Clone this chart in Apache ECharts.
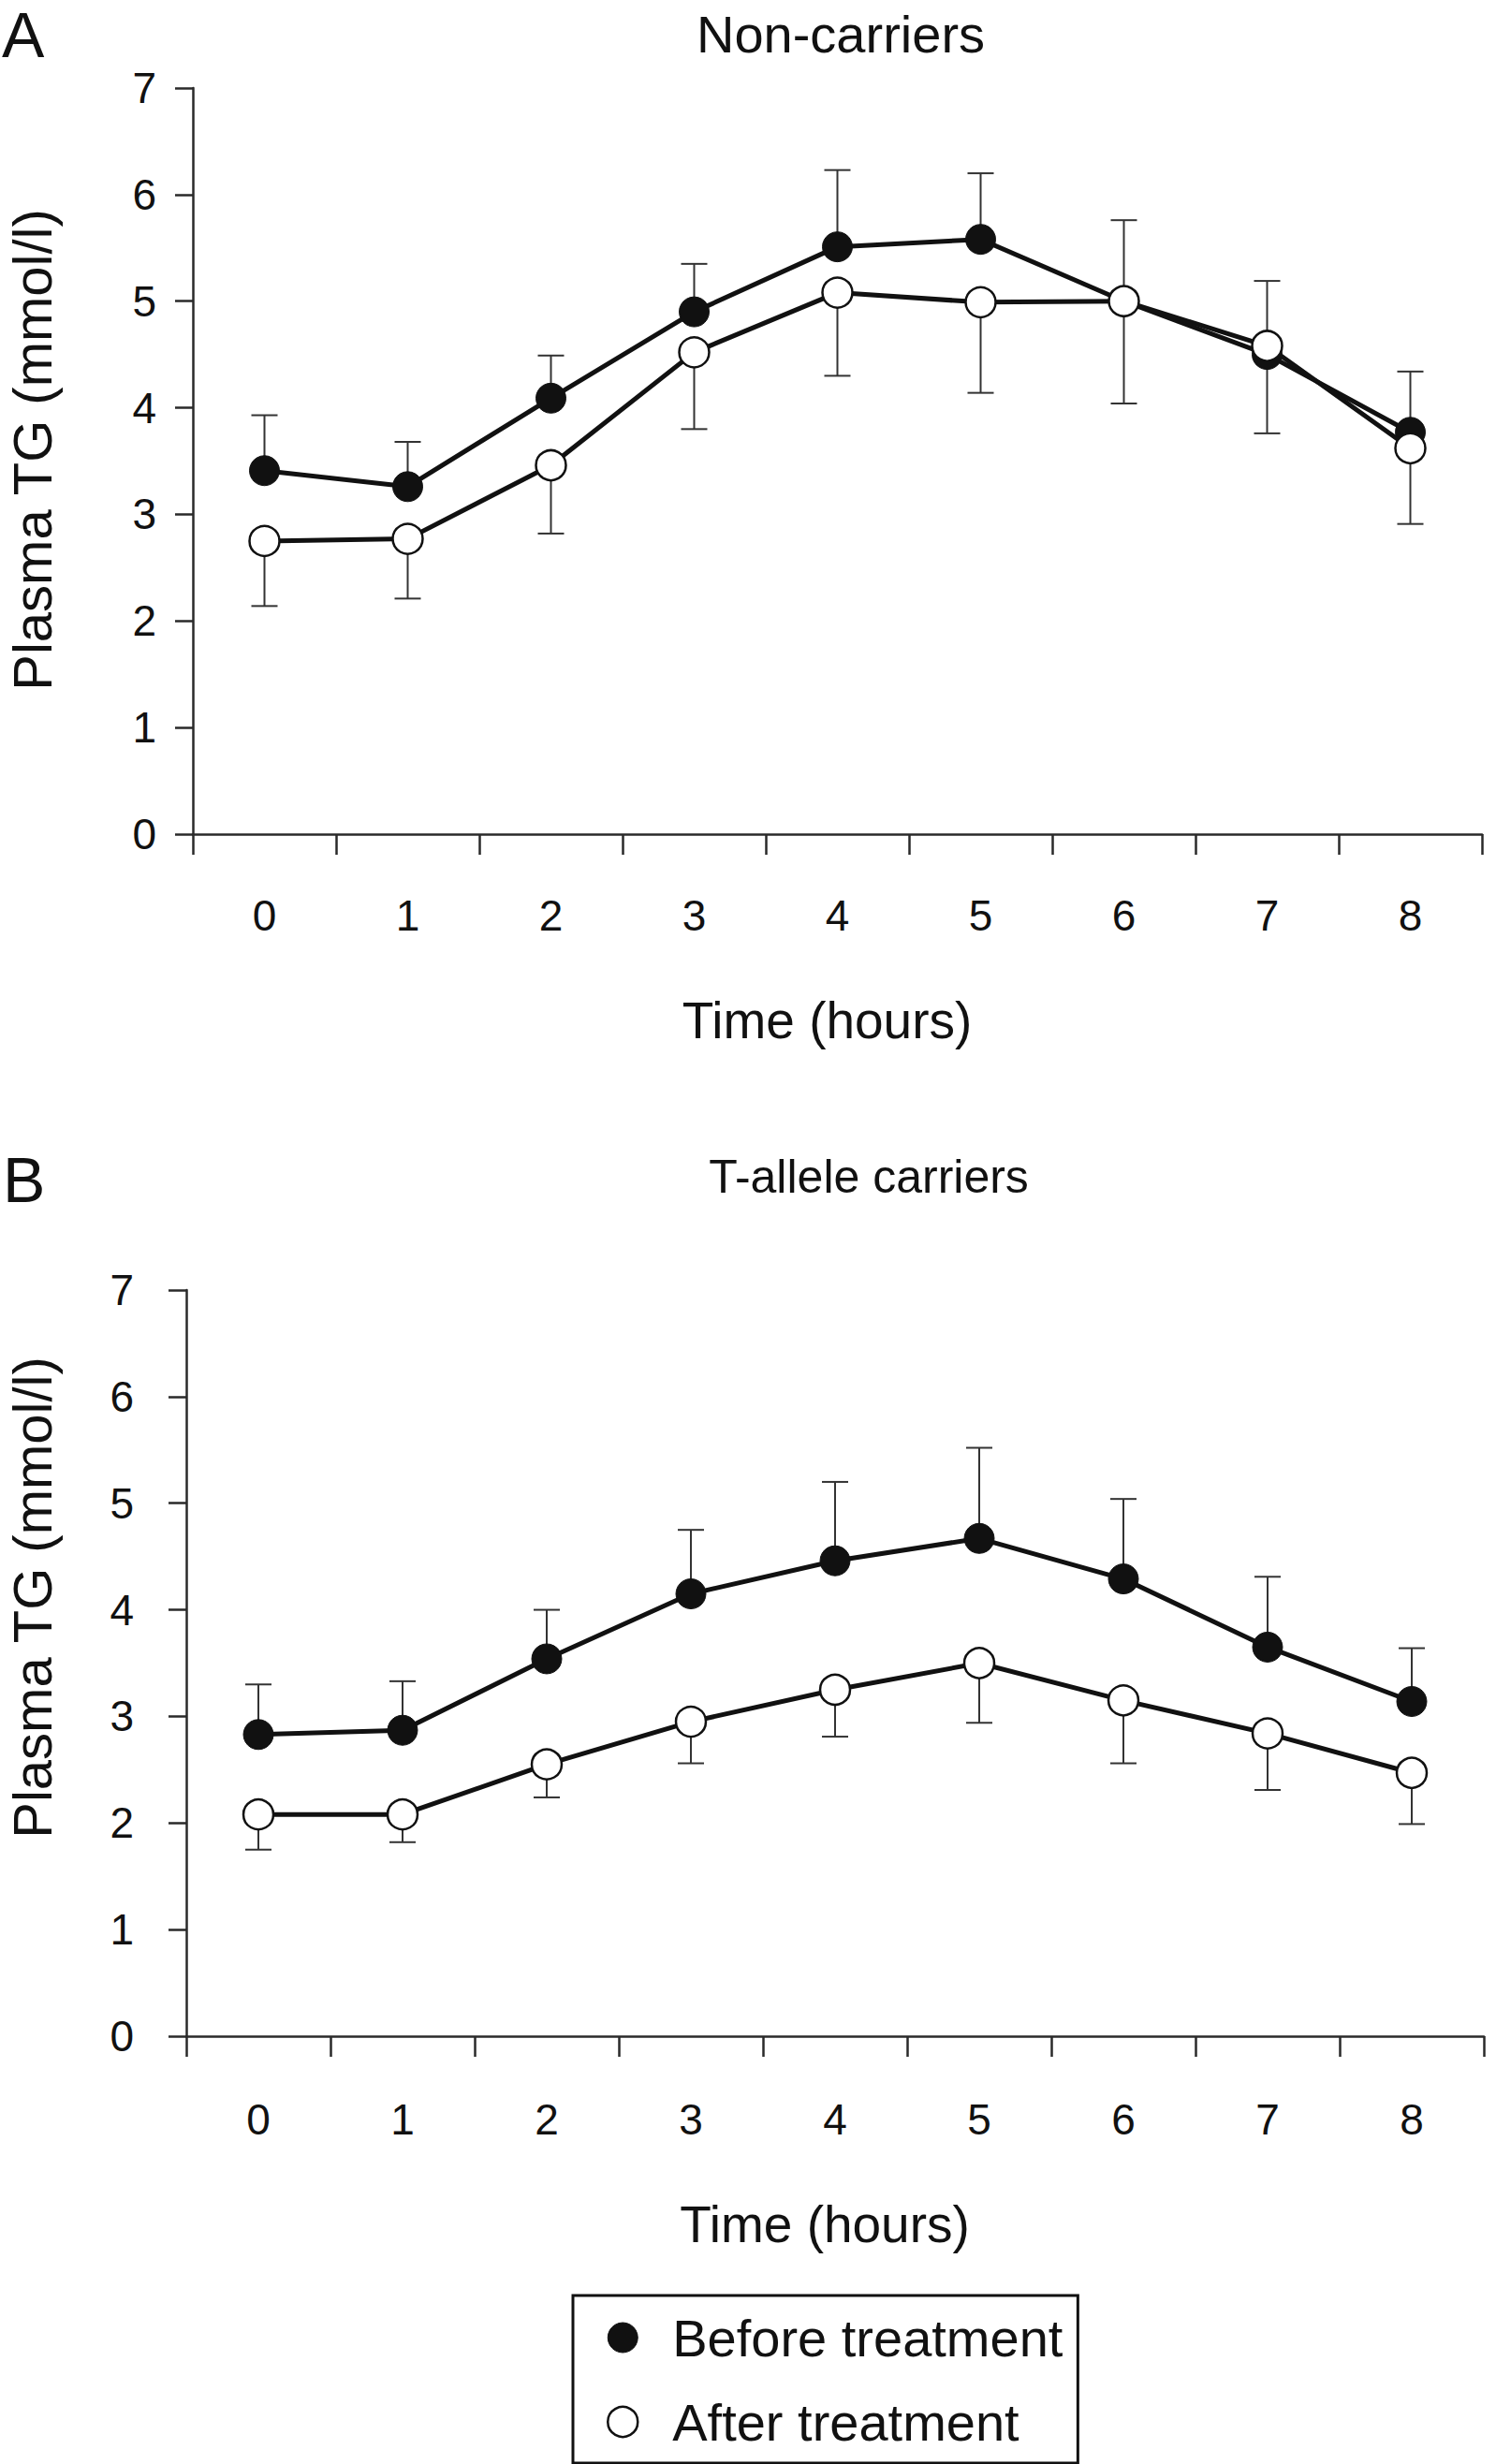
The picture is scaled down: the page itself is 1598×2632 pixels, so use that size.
<!DOCTYPE html>
<html>
<head>
<meta charset="utf-8">
<script src="https://cdn.jsdelivr.net/npm/echarts@6/dist/echarts.min.js"></script>
<style>
html,body{margin:0;padding:0;background:#fff;}
#chart{width:1598px;height:2632px;}
</style>
</head>
<body>
<div id="chart"></div>
<script>
// ---- Data ----
const hours = ['0', '1', '2', '3', '4', '5', '6', '7', '8'];
const yTicks = [0, 1, 2, 3, 4, 5, 6, 7];

// Panel A: Non-carriers
const nonCarriersBefore    = [3.41, 3.26, 4.09, 4.90, 5.51, 5.58, 5.00, 4.50, 3.77];
const nonCarriersBeforeTop = [3.93, 3.68, 4.49, 5.35, 6.23, 6.20, 5.76, 5.19, 4.34];
const nonCarriersAfter     = [2.75, 2.77, 3.46, 4.52, 5.08, 4.99, 5.00, 4.58, 3.62];
const nonCarriersAfterLow  = [2.14, 2.21, 2.82, 3.80, 4.30, 4.14, 4.04, 3.76, 2.91];

// Panel B: T-allele carriers
const carriersBefore    = [2.83, 2.87, 3.54, 4.15, 4.46, 4.67, 4.29, 3.65, 3.14];
const carriersBeforeTop = [3.30, 3.33, 4.00, 4.75, 5.20, 5.52, 5.04, 4.31, 3.64];
const carriersAfter     = [2.08, 2.08, 2.55, 2.95, 3.25, 3.50, 3.15, 2.84, 2.47];
const carriersAfterLow  = [1.75, 1.82, 2.24, 2.56, 2.81, 2.94, 2.56, 2.31, 1.99];

const panelTitles = ['Non-carriers', 'T-allele carriers'];
const panelLetters = ['A', 'B'];
const seriesNames = ['Before treatment', 'After treatment'];
const xName = 'Time (hours)';
const yName = 'Plasma TG (mmol/l)';

// ---- Chart ----
const FONT = "'Liberation Sans', Arial, Helvetica, sans-serif";
const INK = '#111';
const AXIS = '#2a2a2a';

function errData(vals, ends) {
  return vals.map((v, i) => [i, v, ends[i]]);
}
function errRender(params, api) {
  const x = api.value(0), v = api.value(1), e = api.value(2);
  const p1 = api.coord([x, v]);
  const p2 = api.coord([x, e]);
  const hw = 14;
  return {
    type: 'group',
    children: [
      {type: 'line', shape: {x1: p1[0], y1: p1[1], x2: p2[0], y2: p2[1]}, style: {stroke: '#333', lineWidth: 2}},
      {type: 'line', shape: {x1: p2[0] - hw, y1: p2[1], x2: p2[0] + hw, y2: p2[1]}, style: {stroke: '#333', lineWidth: 2}}
    ]
  };
}

function xAxisCfg(gridIndex, labelMargin, nameGap) {
  return {
    type: 'category', gridIndex: gridIndex, data: hours, boundaryGap: true,
    axisLine: {show: true, lineStyle: {color: AXIS, width: 2.5}},
    axisTick: {show: true, length: 22, inside: false, alignWithLabel: false, interval: 0, lineStyle: {color: AXIS, width: 2.5}},
    axisLabel: {margin: labelMargin, fontSize: 46, color: INK, fontFamily: FONT, interval: 0},
    splitLine: {show: false},
    name: xName, nameLocation: 'middle', nameGap: nameGap,
    nameTextStyle: {fontSize: 55, color: INK, fontFamily: FONT, verticalAlign: 'middle', padding: [0, 22, 0, 0]}
  };
}
function yAxisCfg(gridIndex, labelMargin, nameGap, namePad) {
  return {
    type: 'value', gridIndex: gridIndex, min: yTicks[0], max: yTicks[yTicks.length - 1], interval: 1,
    axisLine: {show: true, lineStyle: {color: AXIS, width: 2.5}},
    axisTick: {show: true, length: 19, inside: false, lineStyle: {color: AXIS, width: 2.5}},
    axisLabel: {margin: labelMargin, fontSize: 46, color: INK, fontFamily: FONT},
    splitLine: {show: false},
    name: yName, nameLocation: 'middle', nameGap: nameGap,
    nameTextStyle: {fontSize: 58, color: INK, fontFamily: FONT, verticalAlign: 'middle', padding: namePad}
  };
}

function lineSeries(name, data, idx, filled) {
  return {
    type: 'line', name: name, xAxisIndex: idx, yAxisIndex: idx, data: data,
    symbol: 'circle', symbolSize: 32, showAllSymbol: true, z: filled ? 3 : 4,
    lineStyle: {color: INK, width: 5},
    itemStyle: filled ? {color: INK, borderColor: INK, borderWidth: 1}
                      : {color: '#fff', borderColor: INK, borderWidth: 2.5},
    emphasis: {disabled: true},
    animation: false
  };
}
function errSeries(vals, ends, idx) {
  return {
    type: 'custom', xAxisIndex: idx, yAxisIndex: idx, data: errData(vals, ends),
    renderItem: errRender, z: 1, silent: true, animation: false,
    encode: {x: 0, y: [1, 2]}
  };
}

const chart = echarts.init(document.getElementById('chart'), null, {renderer: 'svg'});
chart.setOption({
  backgroundColor: '#fff',
  animation: false,
  textStyle: {fontFamily: FONT},
  title: [
    {text: panelLetters[0], left: 2, top: 37, padding: 0, textVerticalAlign: 'middle', textAlign: 'left',
     textStyle: {fontSize: 68, fontWeight: 'normal', color: INK, fontFamily: FONT}},
    {text: panelTitles[0], left: 898, top: 36, padding: 0, textAlign: 'center', textVerticalAlign: 'middle',
     textStyle: {fontSize: 56, fontWeight: 'normal', color: INK, fontFamily: FONT}},
    {text: panelLetters[1], left: 3, top: 1260, padding: 0, textVerticalAlign: 'middle', textAlign: 'left',
     textStyle: {fontSize: 68, fontWeight: 'normal', color: INK, fontFamily: FONT}},
    {text: panelTitles[1], left: 928, top: 1257, padding: 0, textAlign: 'center', textVerticalAlign: 'middle',
     textStyle: {fontSize: 50, fontWeight: 'normal', color: INK, fontFamily: FONT}}
  ],
  legend: {
    data: [
      {name: seriesNames[0], itemStyle: {color: INK, borderColor: INK, borderWidth: 1}},
      {name: seriesNames[1], itemStyle: {color: '#fff', borderColor: INK, borderWidth: 2.5}}
    ],
    orient: 'vertical', left: 612, top: 2452,
    padding: [17, 16, 16, 36], itemGap: 34,
    icon: 'circle', itemWidth: 32, itemHeight: 32,
    borderColor: INK, borderWidth: 3, backgroundColor: '#fff',
    selectedMode: false,
    textStyle: {fontSize: 56, color: INK, fontFamily: FONT, padding: [0, 0, 0, 32]}
  },
  grid: [
    {left: 206, right: 15, top: 94, height: 797, containLabel: false, outerBoundsMode: 'none'},
    {left: 199, right: 13, top: 1378, height: 797, containLabel: false, outerBoundsMode: 'none'}
  ],
  xAxis: [xAxisCfg(0, 64, 199), xAxisCfg(1, 66, 201)],
  yAxis: [yAxisCfg(0, 39, 172, [0, 0, 0, 24]), yAxisCfg(1, 56, 165, [0, 0, 0, 140])],
  series: [
    errSeries(nonCarriersBefore, nonCarriersBeforeTop, 0),
    errSeries(nonCarriersAfter, nonCarriersAfterLow, 0),
    lineSeries(seriesNames[0], nonCarriersBefore, 0, true),
    lineSeries(seriesNames[1], nonCarriersAfter, 0, false),
    errSeries(carriersBefore, carriersBeforeTop, 1),
    errSeries(carriersAfter, carriersAfterLow, 1),
    lineSeries(seriesNames[0], carriersBefore, 1, true),
    lineSeries(seriesNames[1], carriersAfter, 1, false)
  ]
});
</script>
</body>
</html>
